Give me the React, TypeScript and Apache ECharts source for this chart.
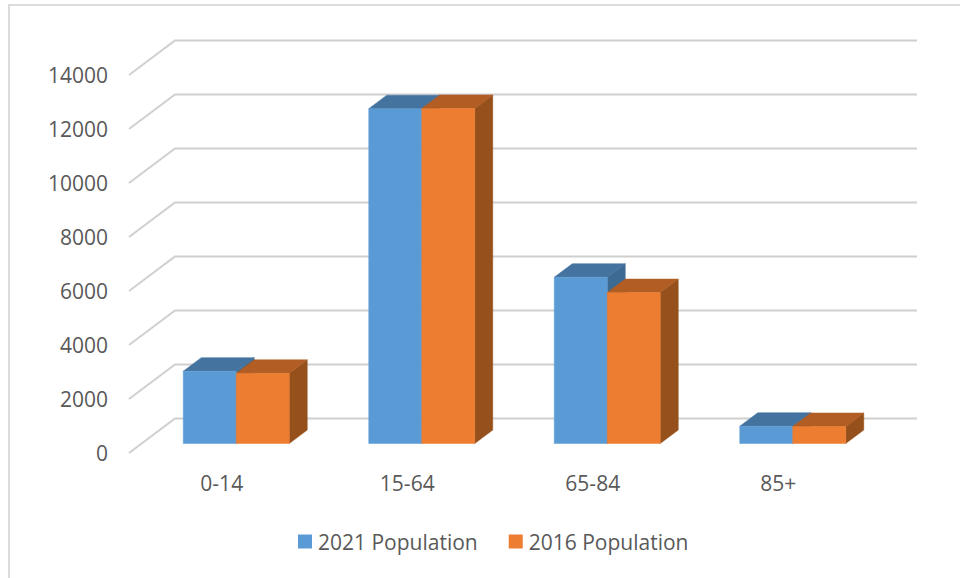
import React, { useEffect, useRef } from "react";
import * as echarts from "echarts";

const categories = ["0-14", "15-64", "65-84", "85+"];
const population2021 = [2680, 12400, 6160, 640];
const population2016 = [2600, 12410, 5590, 630];
const tickValues = [0, 2000, 4000, 6000, 8000, 10000, 12000, 14000];

const FONT = '"Open Sans", "Noto Sans", sans-serif';
const TEXT = "#595959";
const WALL_DX = 46;
const WALL_DY = -34.5;
const BAR_DX = 18;
const BAR_DY = -13.5;
const BAR_LIFT = -9.5;
const BAR_SHIFT = 14.5;
const BAR_WIDTH = 53;

function barRenderer(side: number, front: string, top: string, right: string) {
  return (_params: any, api: any) => {
    const idx = api.value(0);
    const p = api.coord([idx, api.value(1)]);
    const base = api.coord([idx, 0]);
    const x0 = p[0] + BAR_SHIFT + (side === 0 ? -BAR_WIDTH : 0);
    const x1 = x0 + BAR_WIDTH;
    const yT = p[1] + BAR_LIFT;
    const yB = base[1] + BAR_LIFT;
    const poly = (points: number[][], fill: string) => ({
      type: "polygon",
      shape: { points },
      style: { fill, stroke: fill, lineWidth: 0.5 },
    });
    return {
      type: "group",
      children: [
        poly([[x1, yT], [x1 + BAR_DX, yT + BAR_DY], [x1 + BAR_DX, yB + BAR_DY], [x1, yB]], right),
        poly([[x0, yT], [x0 + BAR_DX, yT + BAR_DY], [x1 + BAR_DX, yT + BAR_DY], [x1, yT]], top),
        poly([[x0, yT], [x1, yT], [x1, yB], [x0, yB]], front),
      ],
    };
  };
}

function gridRenderer(params: any, api: any) {
  const cs = params.coordSys;
  const y = api.coord([0, api.value(1)])[1];
  const stroke = "#cfcfcf";
  return {
    type: "group",
    children: [
      {
        type: "polyline",
        shape: {
          points: [
            [cs.x, y],
            [cs.x + WALL_DX, y + WALL_DY],
            [cs.x + cs.width + WALL_DX, y + WALL_DY],
          ],
        },
        style: { stroke, fill: "none", lineWidth: 2 },
      },
    ],
  };
}

export default function App() {
  const ref = useRef<HTMLDivElement>(null);
  useEffect(() => {
    const chart = echarts.init(ref.current!, null, { renderer: "svg" });
    chart.setOption({
      animation: false,
      backgroundColor: "#ffffff",
      grid: { left: 129, top: 75, width: 742, height: 378, containLabel: false },
      xAxis: {
        type: "category",
        data: categories,
        axisLine: { show: false },
        axisTick: { show: false },
        axisLabel: { color: TEXT, fontFamily: FONT, fontSize: 21, margin: 19 },
      },
      yAxis: {
        type: "value",
        min: 0,
        max: 14000,
        interval: 2000,
        axisLine: { show: false },
        axisTick: { show: false },
        splitLine: { show: false },
        axisLabel: {
          color: TEXT,
          fontFamily: FONT,
          fontSize: 21,
          margin: 21,
          padding: [5, 0, 0, 0],
          formatter: (v: number) => String(v),
        },
      },
      legend: {
        left: 298,
        top: 531,
        icon: "rect",
        itemWidth: 14,
        itemHeight: 14,
        itemGap: 31,
        padding: 0,
        data: ["2021 Population", "2016 Population"],
        textStyle: { color: TEXT, fontFamily: FONT, fontSize: 21, padding: [0, 0, 2, 1] },
      },
      graphic: [
        {
          type: "polyline",
          silent: true,
          shape: { points: [[9, 578], [9, 5], [960, 5]] },
          style: { stroke: "#dcdcdc", fill: "none", lineWidth: 2 },
        },
      ],
      series: [
        {
          type: "custom",
          name: "gridlines",
          silent: true,
          clip: false,
          z: 1,
          renderItem: gridRenderer,
          encode: { x: 0, y: 1 },
          data: tickValues.map((t) => [0, t]),
        },
        {
          type: "custom",
          name: "2021 Population",
          clip: false,
          z: 2,
          itemStyle: { color: "#5B9BD5" },
          renderItem: barRenderer(0, "#5B9BD5", "#44739F", "#3D6A92"),
          encode: { x: 0, y: 1 },
          data: population2021.map((v, i) => [i, v]),
        },
        {
          type: "custom",
          name: "2016 Population",
          clip: false,
          z: 3,
          itemStyle: { color: "#ED7D31" },
          renderItem: barRenderer(1, "#ED7D31", "#B15D23", "#95501B"),
          encode: { x: 0, y: 1 },
          data: population2016.map((v, i) => [i, v]),
        },
      ],
    });
    return () => chart.dispose();
  }, []);
  return (
    <div
      ref={ref}
      style={{ position: "fixed", left: 0, top: 0, width: 960, height: 578 }}
    />
  );
}
